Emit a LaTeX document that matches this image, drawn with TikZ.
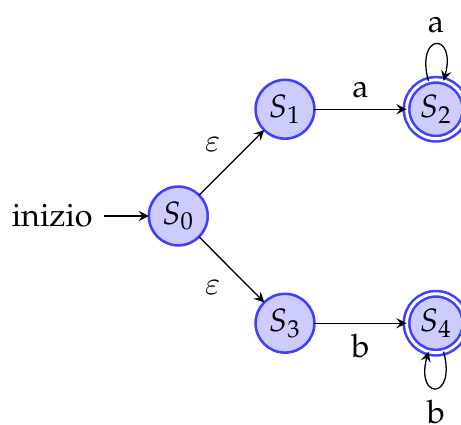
\documentclass[tikz,border=0pt]{standalone}
\usepackage[T1]{fontenc}
\usepackage{mathpazo}
\usepackage{amsmath}
\usepackage{tikz}
\usepackage{tkz-graph}
\usetikzlibrary{calc}
\DeclareSymbolFont{cmletters}{OML}{cmm}{m}{it}
\DeclareMathSymbol{\cmeps}{\mathord}{cmletters}{"22}

\begin{document}
\begin{tikzpicture}[>=stealth]
        \useasboundingbox (-1.940,-2.274) rectangle (3.076,2.350);
        \GraphInit[vstyle=Normal]
        \tikzset{VertexStyle/.style={shape=circle, draw=blue!75, fill=blue!20,
          line width=0.8pt, minimum size=0.64cm, inner sep=0pt}}
        \Vertex[x=0, y=0, L=$S_0$]{S0}
        \Vertex[x=1.161, y=1.161, L=$S_1$]{S1}
        \Vertex[x=1.161, y=-1.167, L=$S_3$]{S3}
        \tikzset{VertexStyle/.append style={double, double distance=0.9pt}}
        \Vertex[x=2.804, y=1.161, L=$S_2$]{S2}
        \Vertex[x=2.804, y=-1.167, L=$S_4$]{S4}
        \node[anchor=east] (start) at (-0.808,0) {inizio};
        \tikzset{EdgeStyle/.style={->, color=black, line width=0.4pt}}
        \Edge(start)(S0)
        \Edge(S0)(S1)
        \Edge(S0)(S3)
        \Edge(S1)(S2)
        \Edge(S3)(S4)
        \draw[->] (S2) edge[loop above, min distance=5.5mm] node[above] (loopa) {a} (S2);
        \draw[->] (S4) edge[loop below, min distance=5.5mm] node[below] (loopb) {b} (S4);
        \node[anchor=south east] (eps1) at ($(S0)!0.5!(S1)$) {$\cmeps$};
        \node[anchor=north east] (eps3) at ($(S0)!0.5!(S3)$) {$\cmeps$};
        \node[anchor=south] (lab12) at ($(S1)!0.5!(S2)$) {a};
        \node[anchor=north] (lab34) at ($(S3)!0.5!(S4)$) {b};
    \end{tikzpicture}
\end{document}
